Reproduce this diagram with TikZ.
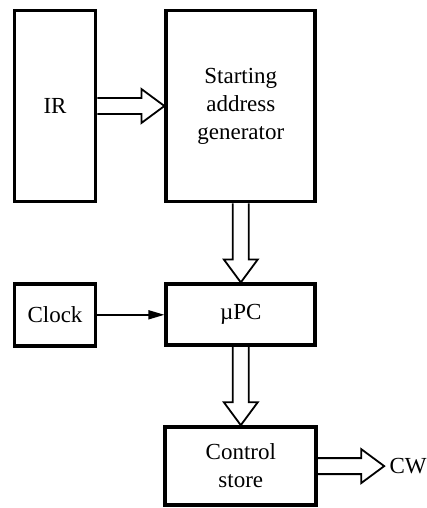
\documentclass[tikz,border=0pt]{standalone}
\usepackage{fontspec}
\setmainfont{Liberation Serif}
\usetikzlibrary{arrows.meta, positioning, calc}

% hollow bus arrow from #1 to #2
\newcommand{\widearrow}[2]{%
  \draw[widearr] let \p1=(#1), \p2=(#2), \n1={atan2(\y2-\y1,\x2-\x1)}, \n2={veclen(\x2-\x1,\y2-\y1)} in
    [shift={(\p1)}, rotate=\n1]
    (0pt,4pt) -- ({\n2*1pt-11.5pt},4pt) -- ({\n2*1pt-11.5pt},8.5pt) -- ({\n2*1pt},0pt)
    -- ({\n2*1pt-11.5pt},-8.5pt) -- ({\n2*1pt-11.5pt},-4pt) -- (0pt,-4pt);
}

\begin{document}
\begin{tikzpicture}[x=0.5pt, y=-0.5pt,
		block/.style = {rectangle, draw, line width=1.9pt, align=center, font=\fontsize{11.5}{14}\selectfont},
		widearr/.style = {draw, line width=0.9pt, fill=white, line join=miter},
		clockarrow/.style = {draw, -{Triangle[length=8pt, width=4.5pt]}, line width=0.8pt}
		]
		\useasboundingbox (0,0) rectangle (427,508);
		
		% Blocks
		\node[block, minimum width=40.5pt, minimum height=95.5pt] (IR) at (55,106) {IR};
		\node[block, minimum width=74.5pt, minimum height=95.5pt, right=33.5pt of IR] (SAG) {Starting\\address\\generator};
		\node[block, minimum width=74.5pt, minimum height=30.5pt, below=39.5pt of SAG] (uPC) {µPC};
		\node[block, minimum width=40.5pt, minimum height=31pt, left=33.5pt of uPC] (Clock) {Clock};
		\node[block, minimum width=75.5pt, minimum height=39pt, below=39pt of uPC] (CS) {Control\\store};
		\coordinate[right=33pt of CS] (cwtip);
		\node[font=\fontsize{11.5}{14}\selectfont, inner sep=0pt, anchor=west, right=2.5pt of cwtip] (CW) {CW};
		
		% Arrows
		\widearrow{IR.east}{SAG.west}
		\widearrow{SAG.south}{uPC.north}
		\widearrow{uPC.south}{CS.north}
		\widearrow{CS.east}{cwtip}
		\draw[clockarrow] (Clock) -- (uPC);
		
	\end{tikzpicture}
\end{document}
